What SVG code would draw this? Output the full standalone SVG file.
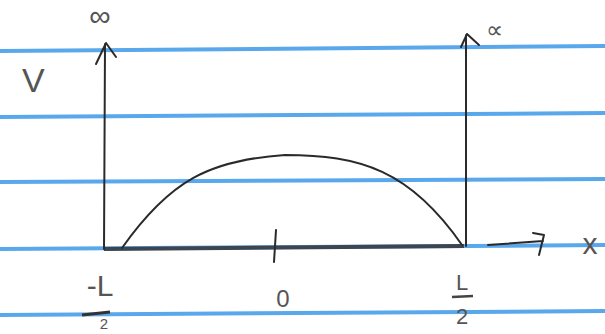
<svg xmlns="http://www.w3.org/2000/svg" width="605" height="334" viewBox="0 0 605 334">
<style>
.rule{stroke:#5aa8ec;stroke-width:4;fill:none}
.ink{stroke:#2a2a2a;stroke-width:2;fill:none;stroke-linecap:round;stroke-linejoin:round}
.lbl{font-family:"Liberation Sans",sans-serif;fill:#555}
</style>
<rect width="605" height="334" fill="#fff"/>
<g id="paper">
<line class="rule" x1="0" y1="51" x2="605" y2="46"/>
<line class="rule" x1="0" y1="117" x2="605" y2="113"/>
<line class="rule" x1="0" y1="182" x2="605" y2="179"/>
<line class="rule" x1="0" y1="249" x2="605" y2="245"/>
<line class="rule" x1="0" y1="315" x2="605" y2="311"/>
</g>
<g id="connectors">
<line x1="104" y1="249" x2="464" y2="246" stroke="#3d4650" stroke-width="4"/>
<path class="ink" d="M104,249 L105,44 M96,64 L106,43 L116,57"/>
<path class="ink" d="M466,246 L466,35 M461,47 L467,34 L479,45"/>
<path class="ink" stroke="#444" stroke-width="3" d="M488,245 L543,241 M533,233 L544,235 L539,255"/>
<line class="ink" x1="276" y1="230" x2="274" y2="262"/>
<path class="ink" d="M122,248 C170,180 210,160 285,155 C360,155 410,170 462,245"/>
</g>
<g id="labels">
<text class="lbl" x="22" y="92" font-size="34">V</text>
<text class="lbl" x="100" y="26" font-size="30" text-anchor="middle" fill="#999">∞</text>
<text class="lbl" x="494" y="38" font-size="24" text-anchor="middle" fill="#999">∝</text>
<text class="lbl" x="100" y="296" font-size="30" text-anchor="middle" fill="#333">-L</text>
<line x1="82" y1="315" x2="110" y2="312" stroke="#333" stroke-width="3"/>
<text class="lbl" x="104" y="329" font-size="15" text-anchor="middle" fill="#333">2</text>
<text class="lbl" x="283" y="307" font-size="24" text-anchor="middle" fill="#444">0</text>
<text class="lbl" x="462" y="290" font-size="22" text-anchor="middle" fill="#444">L</text>
<line x1="452" y1="297" x2="473" y2="296" stroke="#444" stroke-width="2.5"/>
<text class="lbl" x="462" y="324" font-size="22" text-anchor="middle" fill="#444">2</text>
<text class="lbl" x="590" y="254" font-size="30" text-anchor="middle" fill="#444">x</text>
</g>
</svg>
